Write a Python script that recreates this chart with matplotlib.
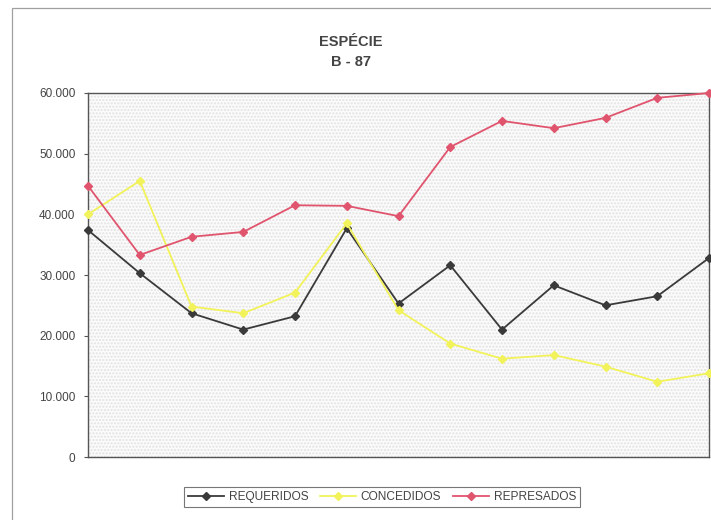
import matplotlib
matplotlib.use("Agg")
import matplotlib.pyplot as plt
from matplotlib.ticker import FuncFormatter, MultipleLocator
from matplotlib.patches import Rectangle

plt.rcParams['font.family'] = ['Liberation Sans', 'DejaVu Sans']

periods = list(range(13))
requeridos = [37400, 30300, 23700, 21000, 23200, 37700, 25300, 31600, 21000, 28300, 25000, 26500, 32800]
concedidos = [40000, 45500, 24800, 23700, 27100, 38500, 24200, 18700, 16200, 16800, 14900, 12400, 13800]
represados = [44700, 33300, 36300, 37100, 41500, 41400, 39700, 51100, 55400, 54200, 55900, 59200, 60000]
series_names = ["REQUERIDOS", "CONCEDIDOS", "REPRESADOS"]
title_lines = ["ESPÉCIE", "B - 87"]

fig = plt.figure(figsize=(7.11, 5.2), dpi=100)
fig.patch.set_facecolor('white')

# outer chart border (scanned page frame)
fig.add_artist(Rectangle((12/711, -0.01), 1.0, 1 - 8/520 + 0.01, transform=fig.transFigure,
                         fill=False, edgecolor='#a0a0a0', linewidth=0.9))

ax = fig.add_axes([88/711, 1 - 457/520, (709 - 88)/711, (457 - 93)/520])
ax.set_facecolor('#fbfbfb')
ax.add_patch(Rectangle((0, 0), 1, 1, transform=ax.transAxes, facecolor='none',
                       edgecolor='#e2e2e2', hatch='.....', linewidth=0, zorder=0))

colors = ['#3a3a3a', '#f2f25a', '#e0546e']
for vals, name, c in zip([requeridos, concedidos, represados], series_names, colors):
    ax.plot(periods, vals, color=c, marker='D', markersize=4.2, linewidth=1.3,
            label=name, clip_on=False, zorder=3)

ax.set_xlim(0, 12)
ax.set_ylim(0, 60000)
ax.yaxis.set_major_locator(MultipleLocator(10000))
ax.yaxis.set_major_formatter(FuncFormatter(lambda v, p: "0" if v == 0 else f"{int(v):,}".replace(",", ".")))
ax.set_xticks([])
ax.tick_params(axis='y', length=3, width=0.8, color='#555555', labelsize=8.5, labelcolor='#444444', pad=6)
for s in ax.spines.values():
    s.set_color('#555555')
    s.set_linewidth(1.0)

fig.text(0.493, 1 - 42/520, title_lines[0], ha='center', va='center', fontsize=10.5,
         fontweight='bold', color='#444444')
fig.text(0.493, 1 - 62/520, title_lines[1], ha='center', va='center', fontsize=10.5,
         fontweight='bold', color='#444444')

leg = fig.legend(loc='center', bbox_to_anchor=(382/711, 1 - 497/520), ncol=3, fontsize=8.6,
                 frameon=True, fancybox=False, edgecolor='#555555', handlelength=3,
                 columnspacing=1.0, handletextpad=0.4, borderpad=0.3)
leg.get_frame().set_linewidth(0.8)
for t in leg.get_texts():
    t.set_color('#444444')

fig.savefig('out.png', dpi=100)
